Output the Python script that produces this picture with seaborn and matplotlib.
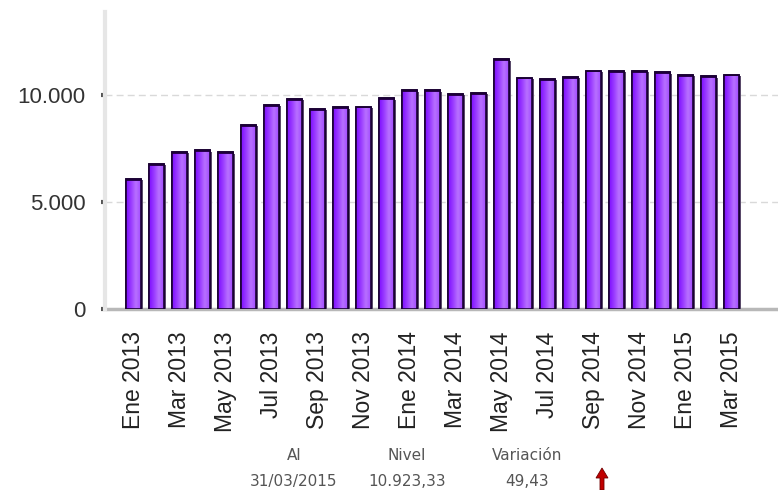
import numpy as np
import pandas as pd
import matplotlib
matplotlib.use("Agg")
import matplotlib.pyplot as plt
import seaborn as sns
from matplotlib.colors import LinearSegmentedColormap
from matplotlib.patches import Rectangle, FancyArrow

# Monthly index level, Jan 2013 – Mar 2015
months = ["Ene 2013", "Feb 2013", "Mar 2013", "Abr 2013", "May 2013", "Jun 2013",
          "Jul 2013", "Ago 2013", "Sep 2013", "Oct 2013", "Nov 2013", "Dic 2013",
          "Ene 2014", "Feb 2014", "Mar 2014", "Abr 2014", "May 2014", "Jun 2014",
          "Jul 2014", "Ago 2014", "Sep 2014", "Oct 2014", "Nov 2014", "Dic 2014",
          "Ene 2015", "Feb 2015", "Mar 2015"]
values = [6060, 6760, 7320, 7400, 7310, 8580, 9510, 9790, 9320, 9400, 9430, 9820,
          10195, 10195, 10025, 10070, 11640, 10785, 10725, 10815, 11110, 11095,
          11095, 11035, 10910, 10845, 10923.33]

summary_heads = ["Al", "Nivel", "Variación"]
summary_vals = ["31/03/2015", "10.923,33", "49,43"]

df = pd.DataFrame({"mes": months, "nivel": values})

sns.set_theme(style="white")
plt.rcParams["font.family"] = ["Liberation Sans", "DejaVu Sans"]

fig = plt.figure(figsize=(7.78, 4.90), dpi=100)
ax = fig.add_axes([0.135, 0.369, 0.865, 0.6065])

sns.barplot(data=df, x="mes", y="nivel", ax=ax, color="#9933ff", width=0.65,
            edgecolor="#1a0033", linewidth=1.2, zorder=3)

# gradient fill + side shading for a raised look
cmap = LinearSegmentedColormap.from_list("violeta", ["#7d0cff", "#9a3bff", "#b870ff", "#a24cff"])
grad = np.linspace(0, 1, 64).reshape(1, -1)
for p in list(ax.patches):
    x0, w, h = p.get_x(), p.get_width(), p.get_height()
    shadow = Rectangle((x0 + w, 0), 0.09, h - 60, facecolor="#5a4a6a",
                       edgecolor="none", zorder=2.5)
    ax.add_patch(shadow)
    im = ax.imshow(grad, cmap=cmap, aspect="auto", extent=(x0, x0 + w, 0, h),
                   zorder=3.1, interpolation="bilinear")
    im.set_clip_path(p)
    top = Rectangle((x0, h - 70), w + 0.04, 70, facecolor="#2a0050",
                    edgecolor="none", zorder=3.2)
    ax.add_patch(top)
    outline = Rectangle((x0, 0), w, h, facecolor="none", edgecolor="#1a0033",
                        linewidth=1.2, zorder=3.3)
    ax.add_patch(outline)

ax.set_xlim(-1.22, 28.0)
ax.set_ylim(0, 13850)

# axes styling
for s in ["top", "right", "bottom"]:
    ax.spines[s].set_visible(False)
ax.spines["left"].set_color("#e6e6e6")
ax.spines["left"].set_linewidth(3)
ax.axhline(0, color="#b8b8b8", linewidth=2.5, zorder=2, clip_on=False)
for yv in [5000, 10000]:
    ax.axhline(yv, color="#d9d9d9", linewidth=1, linestyle=(0, (5, 3)), zorder=1)

ax.set_yticks([0, 5000, 10000])
ax.set_yticklabels(["0", "5.000", "10.000"])
ax.tick_params(axis="y", length=3, width=3, color="#555555", pad=11,
               labelsize=16, labelcolor="#333333", left=True)

ax.set_xticks(range(0, len(months), 2))
ax.set_xticklabels(months[::2], rotation=90, fontsize=16.5, color="#222222")
ax.tick_params(axis="x", length=0, pad=16)
ax.set_xlabel("")
ax.set_ylabel("")

# summary table below the chart
col_x = [294 / 778, 407 / 778, 527 / 778]
for cx, head, val in zip(col_x, summary_heads, summary_vals):
    fig.text(cx, 1 - 455 / 490, head, ha="center", va="center", fontsize=11,
             color="#555555", family="DejaVu Sans")
    fig.text(cx, 1 - 481 / 490, val, ha="center", va="center", fontsize=11,
             color="#555555", family="DejaVu Sans")

arrow = FancyArrow(602 / 778, 1 - 490 / 490, 0, 22 / 490, width=4 / 778,
                   head_width=12 / 778, head_length=10 / 490, length_includes_head=True,
                   transform=fig.transFigure, facecolor="#c00000", edgecolor="#700000",
                   linewidth=0.6)
fig.patches.append(arrow)

fig.savefig("out.png", dpi=100)
